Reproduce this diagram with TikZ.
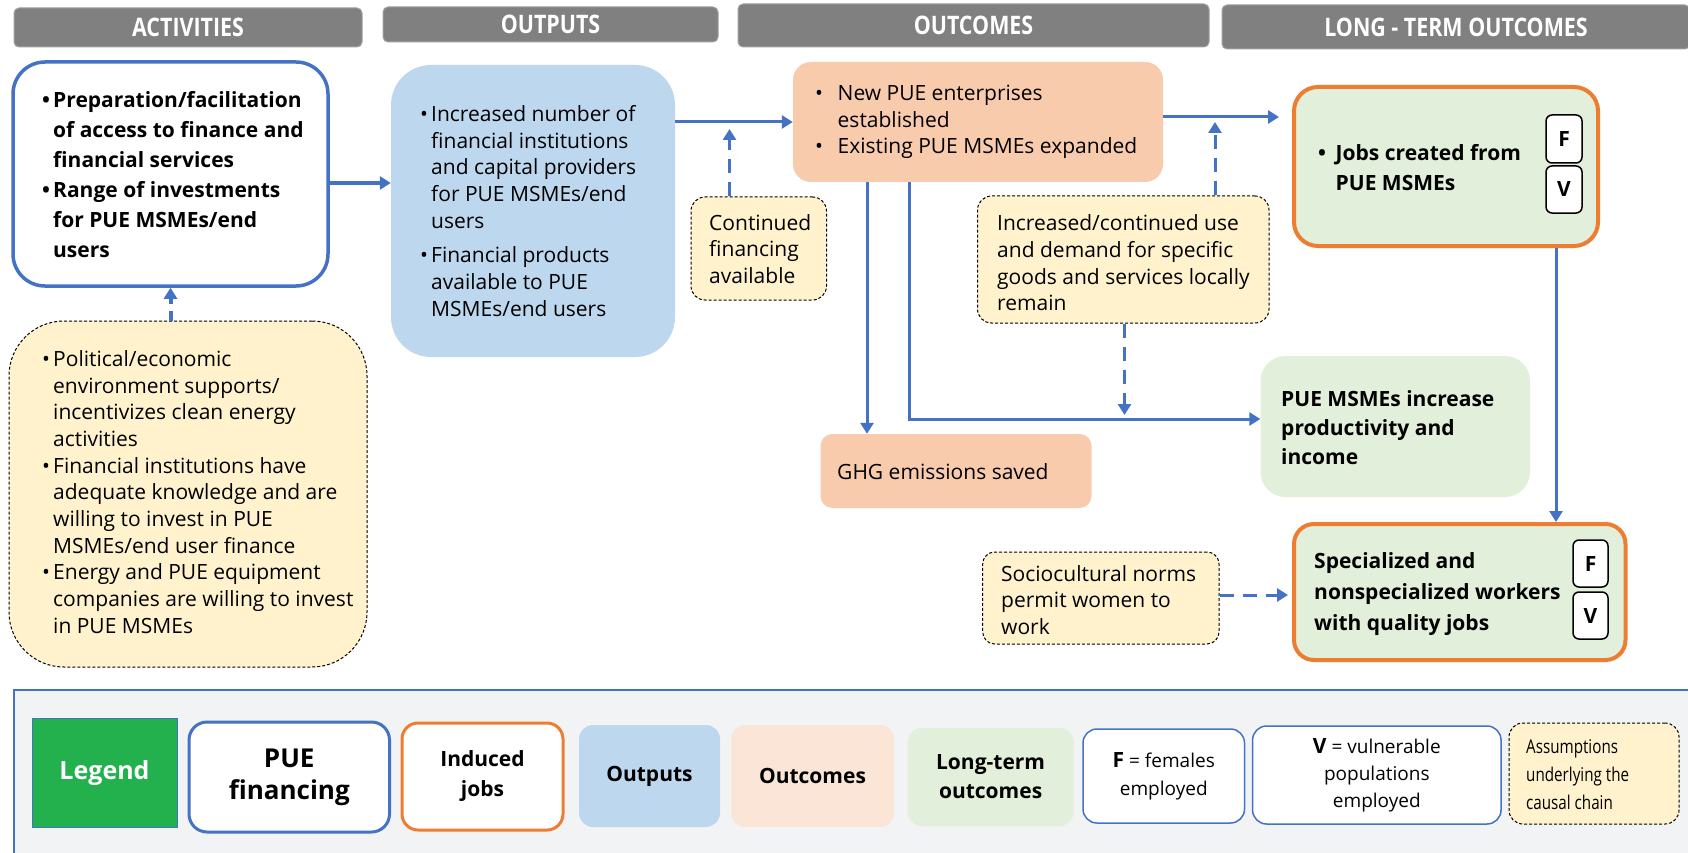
\documentclass[tikz,border=0pt]{standalone}
\usepackage{fontspec}
\setmainfont{Open Sans}
\newfontfamily\headfont[FakeStretch=0.84]{Open Sans}
\newfontfamily\condfont[FakeStretch=0.8]{Open Sans}
\usetikzlibrary{arrows.meta,fit}

\definecolor{cblue}{HTML}{4472C4}
\definecolor{cout}{HTML}{BDD7EE}
\definecolor{coutc}{HTML}{F8CBAD}
\definecolor{coutcl}{HTML}{FBE5D6}
\definecolor{cgreen}{HTML}{E2EFDA}
\definecolor{corange}{HTML}{ED7D31}
\definecolor{cyellow}{HTML}{FFF2CC}
\definecolor{chead}{HTML}{808080}
\definecolor{cpanel}{HTML}{F2F3F5}
\definecolor{clegend}{HTML}{22B14C}

% bullet of a given width, and the matching hanging indent
\newcommand\bu[1]{\makebox[#1][l]{\textbullet}}
\newcommand\ind[1]{\hspace*{#1}}

\begin{document}
\begin{tikzpicture}[x=1pt,y=-1pt,
  header/.style={fill=chead, draw=chead!75!white, line width=1pt, rounded corners=5pt, inner sep=0pt},
  headtxt/.style={text=white, inner sep=0pt, font=\headfont\bfseries\fontsize{25.5}{30}\selectfont},
  actbox/.style={draw=cblue, line width=3.5pt, fill=white, rounded corners=32pt, inner sep=0pt},
  outbox/.style={fill=cout, rounded corners=40pt, inner sep=0pt},
  outcbox/.style={fill=coutc, rounded corners=18pt, inner sep=0pt},
  greenbox/.style={fill=cgreen, rounded corners=25pt, inner sep=0pt},
  jobbox/.style={fill=cgreen, draw=corange, line width=4pt, rounded corners=24pt, inner sep=0pt},
  assume/.style={fill=cyellow, draw=black, line width=1pt, dash pattern=on 3pt off 2pt,
    rounded corners=14pt, inner sep=0pt},
  fv/.style={fill=white, draw=black, line width=1.5pt, rounded corners=6pt, inner sep=0pt},
  fvtxt/.style={inner sep=0pt, font=\bfseries\fontsize{21}{25}\selectfont},
  txt/.style={anchor=west, align=left, inner sep=0pt, font=\fontsize{21}{26.7}\selectfont},
  txtb/.style={txt, font=\bfseries\fontsize{21}{30}\selectfont},
  leg/.style={inner sep=0pt, align=center, font=\bfseries\fontsize{21}{30}\selectfont},
  arr/.style={draw=cblue, line width=3pt, -{Triangle[length=11pt,width=13pt]}},
  darr/.style={arr, dash pattern=on 14pt off 9pt},
]
\fill[white] (0,0) rectangle (1688,853);
\useasboundingbox (0,0) rectangle (1688,853);

% ---------- column headers ----------
\node[header, fit={(14,8)(362,47)}] (hAct) {};
\node[headtxt] (hActT) at (hAct.center) {ACTIVITIES};
\node[header, fit={(383,7)(718,42)}] (hOut) {};
\node[headtxt] (hOutT) at (hOut.center) {OUTPUTS};
\node[header, fit={(738,4)(1209,47)}] (hOutc) {};
\node[headtxt] (hOutcT) at (hOutc.center) {OUTCOMES};
\node[header, fit={(1222,5)(1690,49)}] (hLong) {};
\node[headtxt] (hLongT) at (hLong.center) {LONG - TERM OUTCOMES};

% ---------- activities ----------
\node[actbox, fit={(13,62)(328,286)}] (act) {};
\node[txtb] (actT) at (42,175) {\bu{11pt}Preparation/facilitation\\
  \ind{11pt}of access to finance and\\
  \ind{11pt}financial services\\
  \bu{11pt}Range of investments\\
  \ind{11pt}for PUE MSMEs/end\\
  \ind{11pt}users};

\node[assume, fit={(9,321)(367,667)}, rounded corners=55pt] (lass) {};
\node[txt] (lassT) at (42,492) {\bu{11pt}Political/economic\\
  \ind{11pt}environment supports/\\
  \ind{11pt}incentivizes clean energy\\
  \ind{11pt}activities\\
  \bu{11pt}Financial institutions have\\
  \ind{11pt}adequate knowledge and are\\
  \ind{11pt}willing to invest in PUE\\
  \ind{11pt}MSMEs/end user finance\\
  \bu{11pt}Energy and PUE equipment\\
  \ind{11pt}companies are willing to invest\\
  \ind{11pt}in PUE MSMEs};

% ---------- outputs ----------
\node[outbox, fit={(391,65)(675,357)}] (out) {};
\node[txt] (outT) at (420,211) {\bu{11pt}Increased number of\\
  \ind{11pt}financial institutions\\
  \ind{11pt}and capital providers\\
  \ind{11pt}for PUE MSMEs/end\\
  \ind{11pt}users\\[8pt]
  \bu{11pt}Financial products\\
  \ind{11pt}available to PUE\\
  \ind{11pt}MSMEs/end users};

% ---------- outcomes ----------
\node[outcbox, fit={(793,62)(1163,182)}] (outc) {};
\node[txt] (outcT) at (815,122) {\bu{22.5pt}New PUE enterprises\\
  \ind{22.5pt}established\\
  \bu{22.5pt}Existing PUE MSMEs expanded};

\node[assume, fit={(691,197)(826.5,300)}] (cfin) {};
\node[txt] (cfinT) at (709,249) {Continued\\financing\\available};

\node[assume, fit={(977.5,196)(1269,323)}] (incr) {};
\node[txt] (incrT) at (997,263) {Increased/continued use\\and demand for specific\\goods and services locally\\remain};

\node[outcbox, fit={(820.5,434)(1091.5,508)}, rounded corners=12pt] (ghg) {};
\node[txt] (ghgT) at (837,472) {GHG emissions saved};

\node[assume, fit={(982.7,552)(1219,644)}, rounded corners=12pt] (soc) {};
\node[txt] (socT) at (1001,600) {Sociocultural norms\\permit women to\\work};

% ---------- long-term outcomes ----------
\node[jobbox, fit={(1294,87)(1598,246)}] (jobs) {};
\node[txtb] (jobsT) at (1318,168) {\bu{17.5pt}Jobs created from\\\ind{17.5pt}PUE MSMEs};
\node[fv, fit={(1546,115)(1582,163)}] (jF) {};
\node[fvtxt] (jFT) at (jF.center) {F};
\node[fv, fit={(1546,166)(1582,213)}] (jV) {};
\node[fvtxt] (jVT) at (jV.center) {V};

\node[greenbox, fit={(1260.5,356)(1530,497)}] (pinc) {};
\node[txtb, font=\bfseries\fontsize{21}{29}\selectfont] (pincT) at (1281,428)
  {PUE MSMEs increase\\productivity and\\income};

\node[jobbox, fit={(1294,524)(1625.5,660)}, rounded corners=20pt] (spec) {};
\node[txtb, font=\bfseries\fontsize{21}{31}\selectfont] (specT) at (1314,594)
  {Specialized and\\nonspecialized workers\\with quality jobs};
\node[fv, fit={(1573,540)(1608,587)}] (sF) {};
\node[fvtxt] (sFT) at (sF.center) {F};
\node[fv, fit={(1573,592)(1608,639)}] (sV) {};
\node[fvtxt] (sVT) at (sV.center) {V};

% ---------- connectors ----------
\draw[arr, line width=4.5pt] ([yshift=-9pt]act.east) -- ([yshift=-9pt]act.east -| out.west);
\draw[darr, line width=4pt, dash pattern=on 10pt off 7pt] (act.south |- lass.north) -- (act.south);
\draw[arr] (outc.west -| out.east) -- (outc.west);
\coordinate (cfTip) at (729.5,129);
\draw[darr] (cfin.north -| cfTip) -- (cfTip);
\draw[arr, shorten >=13pt] ([yshift=5pt]outc.east) -- ([yshift=5pt]outc.east -| jobs.west);
\coordinate (inTip) at (1215,122);
\draw[darr] (incr.north -| inTip) -- (inTip);
\coordinate (gX) at (867,0);
\draw[arr] (outc.south -| gX) -- (ghg.north -| gX);
\coordinate (pX) at (909,0);
\draw[arr] (outc.south -| pX) |- ([yshift=7.5pt]pinc.west);
\coordinate (inTipB) at (1124.5,415);
\draw[darr] (incr.south -| inTipB) -- (inTipB);
\coordinate (jX) at (1556,0);
\draw[arr] (jobs.south -| jX) -- (spec.north -| jX);
\draw[darr, shorten >=4pt] ([yshift=3pt]soc.east) -- ([yshift=3pt]soc.east -| spec.west);

% ---------- legend ----------
\begin{scope}
\clip (0,0) rectangle (1688,853);
\node[draw=cblue, line width=2pt, fill=cpanel, inner sep=0pt, fit={(14,690)(1720,880)}] (panel) {};
\end{scope}
\node[fill=clegend, draw=cblue, line width=1pt, inner sep=0pt, fit={(32,718)(177,827)}] (lLeg) {};
\node[leg, text=white, font=\bfseries\fontsize{25}{30}\selectfont] (lLegT) at (lLeg.center) {Legend};
\node[draw=cblue, line width=3pt, fill=white, rounded corners=18pt, inner sep=0pt,
  fit={(189,722)(389.5,832)}] (lPue) {};
\node[leg, font=\bfseries\fontsize{26}{32}\selectfont] (lPueT) at (lPue.center) {PUE\\financing};
\node[draw=corange, line width=3pt, fill=white, rounded corners=16pt, inner sep=0pt,
  fit={(402,723)(563,830)}] (lInd) {};
\node[leg] (lIndT) at (lInd.center) {Induced\\jobs};
\node[fill=cout, rounded corners=14pt, inner sep=0pt, fit={(579,725)(720,827)}] (lOut) {};
\node[leg] (lOutT) at (lOut.center) {Outputs};
\node[fill=coutcl, rounded corners=14pt, inner sep=0pt, fit={(731,725)(894,827)}] (lOutc) {};
\node[leg] (lOutcT) at (lOutc.center) {Outcomes};
\node[fill=cgreen, rounded corners=14pt, inner sep=0pt, fit={(907.6,728)(1073.6,826)}] (lLong) {};
\node[leg, font=\bfseries\fontsize{21}{29}\selectfont] (lLongT) at (lLong.center) {Long-term\\outcomes};
\node[draw=cblue, line width=1.5pt, fill=white, rounded corners=14pt, inner sep=0pt,
  fit={(1083,729)(1244.5,823)}] (lF) {};
\node[leg, font=\fontsize{19}{28}\selectfont] (lFT) at (lF.center)
  {{\bfseries\fontsize{21}{28}\selectfont F} = females\\employed};
\node[draw=cblue, line width=1.5pt, fill=white, rounded corners=14pt, inner sep=0pt,
  fit={(1252.6,726)(1501,824)}] (lV) {};
\node[leg, font=\fontsize{19}{27}\selectfont] (lVT) at (lV.center)
  {{\bfseries\fontsize{21}{27}\selectfont V} = vulnerable\\populations\\employed};
\node[assume, fit={(1509,723)(1679,824)}] (lAss) {};
\node[txt, font=\condfont\fontsize{19}{28}\selectfont] (lAssT) at (1526,775)
  {Assumptions\\underlying the\\causal chain};
\end{tikzpicture}
\end{document}
